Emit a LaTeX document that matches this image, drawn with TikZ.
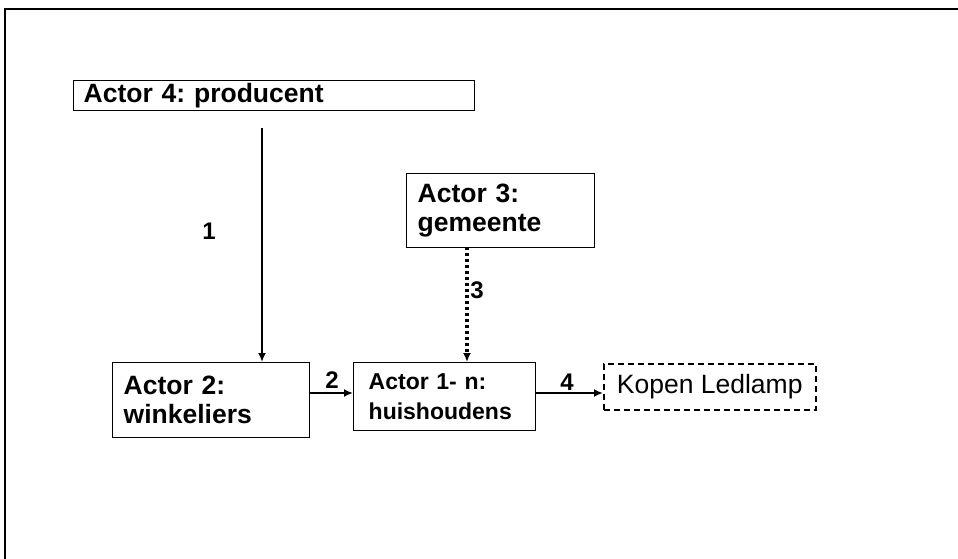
\documentclass[tikz,border=0pt]{standalone}
\usepackage{fontspec}
\setmainfont{Liberation Sans}
\usetikzlibrary{arrows.meta}
\frenchspacing
\begin{document}
\begin{tikzpicture}[x=1pt,y=-1pt,
  frame/.style={line width=2pt},
  actorbox/.style={draw, line width=1.4pt, anchor=north west, align=left,
    inner ysep=0pt, font=\bfseries\fontsize{26.5}{29}\selectfont},
  resultbox/.style={draw, line width=1.5pt, dash pattern=on 6pt off 4pt,
    anchor=north west, inner sep=0pt, font=\fontsize{26.5}{29}\selectfont},
  flow/.style={line width=2.8pt, -{Latex[length=9pt,width=8pt]}},
  influence/.style={line width=3.2pt, dash pattern=on 3pt off 3pt,
    -{Latex[length=9pt,width=8pt]}},
  numlabel/.style={font=\bfseries\fontsize{24}{26}\selectfont, inner sep=0pt}]
\useasboundingbox (0,0) rectangle (958,559);
% outer frame (top and left edges)
\draw[frame] (5,559) -- (5,9.5) -- (958,9.5);

% actors
\node[actorbox, minimum width=401pt, minimum height=30pt, text width=381pt,
  inner xsep=10pt] (actor4) at (73,80) {Actor 4: producent};
\node[actorbox, minimum width=188pt, minimum height=74pt, text width=166pt,
  inner xsep=11pt] (actor3) at (406,173) {Actor 3:\\gemeente};
\node[actorbox, minimum width=197pt, minimum height=75pt, text width=175pt,
  inner xsep=11pt] (actor2) at (112,362) {Actor 2:\\winkeliers};
\node[actorbox, minimum width=182pt, minimum height=68pt, text width=152pt,
  inner xsep=15pt, font=\bfseries\fontsize{23}{30}\selectfont]
  (actor1) at (353,362) {Actor 1- n:\\huishoudens};
\node[resultbox, minimum width=212pt, minimum height=46pt]
  (kopen) at (603,363) {Kopen Ledlamp};

% connectors
\coordinate (src1) at (262,128);
\draw[flow] (src1) -- (src1 |- actor2.north);
\node[numlabel] (n1) at (209,231) {1};

\coordinate (src3) at (467,247);
\draw[influence] (src3) -- (src3 |- actor1.north);
\node[numlabel] (n3) at (477,290) {3};

\coordinate (row) at (0,393);
\draw[flow] (actor2.east |- row) -- (actor1.west |- row);
\node[numlabel] (n2) at (332,380) {2};

\draw[flow] (actor1.east |- row) -- (kopen.west |- row);
\node[numlabel] (n4) at (567,382) {4};
\end{tikzpicture}
\end{document}
